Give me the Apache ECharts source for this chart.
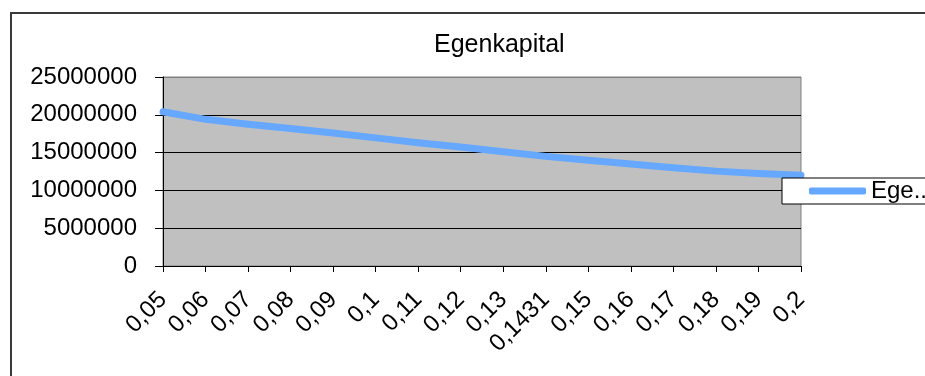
<!DOCTYPE html>
<html>
<head>
<meta charset="utf-8">
<script src="https://cdn.jsdelivr.net/npm/echarts@6/dist/echarts.min.js"></script>
<style>
html,body{margin:0;padding:0;background:#fff;}
#c{width:925px;height:376px;}
</style>
</head>
<body>
<div id="c"></div>
<script>
const titleText = 'Egenkapital';
const seriesName = 'Egenkapital';
const legendLabel = 'Ege..';
const categories = ['0,05','0,06','0,07','0,08','0,09','0,1','0,11','0,12','0,13','0,1431','0,15','0,16','0,17','0,18','0,19','0,2'];
const values = [20400000, 19400000, 18750000, 18200000, 17600000, 16950000, 16300000, 15750000, 15100000, 14500000, 14000000, 13500000, 13000000, 12550000, 12250000, 12000000];
const yMin = 0, yMax = 25000000, yStep = 5000000;

const FONT = '"Liberation Sans", Arial, sans-serif';
const chart = echarts.init(document.getElementById('c'), null, {renderer: 'canvas'});
chart.setOption({
  animation: false,
  backgroundColor: '#ffffff',
  title: {
    text: titleText,
    left: 434, top: 33, padding: 0,
    textStyle: {fontFamily: FONT, fontSize: 25, fontWeight: 'normal', color: '#000'}
  },
  graphic: [{
    type: 'rect', z: 100, silent: true,
    shape: {x: 11, y: 13, width: 1000, height: 500},
    style: {fill: 'none', stroke: '#3a3a3a', lineWidth: 2}
  }],
  legend: {
    left: 782, top: 178,
    orient: 'vertical',
    backgroundColor: '#ffffff',
    borderColor: '#000', borderWidth: 1, borderRadius: 0,
    padding: [1, 80, 1, 27],
    itemWidth: 57, itemHeight: 7,
    icon: 'roundRect',
    formatter: function(){ return legendLabel; },
    textStyle: {fontFamily: FONT, fontSize: 24, color: '#000'},
    data: [seriesName],
    z: 10
  },
  grid: {
    left: 163, right: 124, top: 77, bottom: 110,
    show: true, backgroundColor: '#c0c0c0', borderColor: '#808080', borderWidth: 1
  },
  xAxis: {
    type: 'category',
    data: categories,
    boundaryGap: false,
    axisLine: {show: true, lineStyle: {color: '#000', width: 1}},
    axisTick: {show: true, length: 6, interval: 0, lineStyle: {color: '#000'}},
    axisLabel: {interval: 0, rotate: 45, margin: 30, fontFamily: FONT, fontSize: 24, color: '#000'},
    splitLine: {show: false}
  },
  yAxis: {
    type: 'value',
    min: yMin, max: yMax, interval: yStep,
    axisLine: {show: true, lineStyle: {color: '#000', width: 1}},
    axisTick: {show: true, length: 8, lineStyle: {color: '#000'}},
    axisLabel: {margin: 26, fontFamily: FONT, fontSize: 24, color: '#000',
      formatter: function(v){ return String(v); }},
    splitLine: {show: true, lineStyle: {color: ['#000','#000','#000','#000','#000','#808080'], width: 1}}
  },
  series: [{
    name: seriesName,
    type: 'line',
    data: values,
    symbol: 'none',
    showSymbol: false,
    lineStyle: {color: '#66a8ff', width: 7, cap: 'round', join: 'round'},
    itemStyle: {color: '#66a8ff'},
    z: 3
  }]
});
</script>
</body>
</html>
